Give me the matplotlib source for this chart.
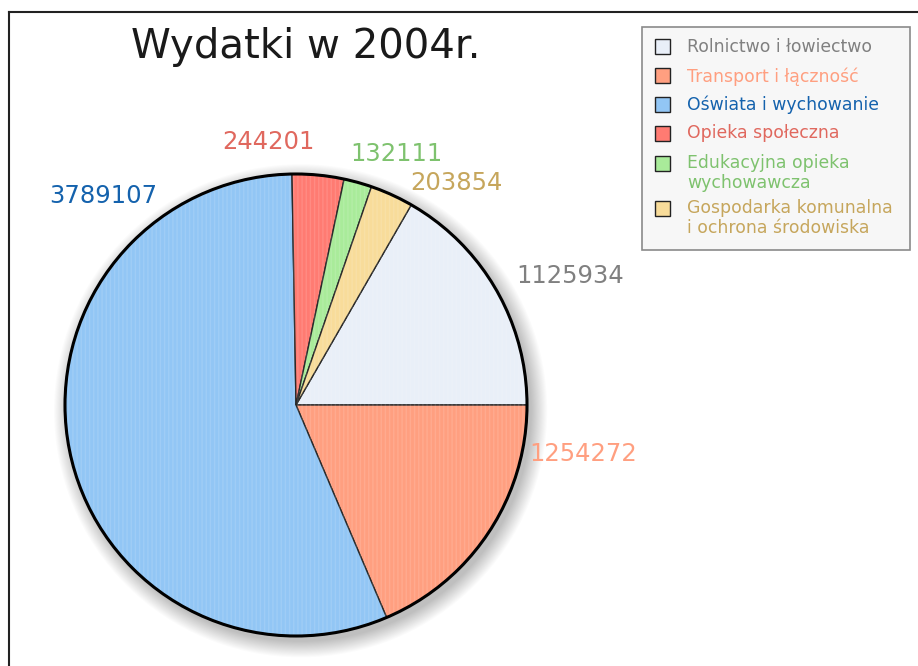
import numpy as np
import matplotlib
matplotlib.use("Agg")
import matplotlib.pyplot as plt
from matplotlib.patches import Circle, Rectangle
from matplotlib.lines import Line2D

plt.rcParams['font.family'] = ['DejaVu Sans']

# data (legend order)
categories = ['Rolnictwo i łowiectwo', 'Transport i łączność', 'Oświata i wychowanie',
              'Opieka społeczna', 'Edukacyjna opieka\nwychowawcza',
              'Gospodarka komunalna\ni ochrona środowiska']
values = [1125934, 1254272, 3789107, 244201, 132111, 203854]

# styles
wedge_colors = ['#e9eff8', '#ff9f80', '#92c6f5', '#ff7b72', '#a9eb9a', '#f8dc9a']
text_colors = ['#808080', '#ff9f80', '#1462ad', '#e0685e', '#7ec26e', '#c6a65c']
# label anchor (left, centre) in pie units
label_pos = [(0.953, 0.558), (1.009, -0.212), (-1.069, 0.905),
             (-0.320, 1.139), (0.234, 1.087), (0.494, 0.961)]

W, H = 918, 666
fig = plt.figure(figsize=(W / 100, H / 100), dpi=100)

# pie axes: centre (296, 405) px, radius 231 px
cx, cy, R = 296, 405, 231
lim = 1.25
half = lim * R
ax = fig.add_axes([(cx - half) / W, (H - cy - half) / H, 2 * half / W, 2 * half / H])
ax.set_xlim(-lim, lim)
ax.set_ylim(-lim, lim)
ax.set_aspect('equal')
ax.axis('off')

# soft shadow
for i in range(16):
    ax.add_patch(Circle((0.02, -0.025), 1.0 + 0.0045 * i, color='black',
                        alpha=0.016, lw=0, zorder=0))

start = 360 * values[0] / sum(values)
wedges, _ = ax.pie(values, colors=wedge_colors, startangle=start, counterclock=False,
                   radius=1, wedgeprops=dict(edgecolor='#2a2a2a', linewidth=1.0))
for w in wedges:
    w.set_zorder(2)

# faint woven texture
tex, _ = ax.pie(values, colors=['none'] * len(values), startangle=start, counterclock=False,
                radius=1, wedgeprops=dict(edgecolor=(1, 1, 1, 0.12), linewidth=0, hatch='||||'))
for w in tex:
    w.set_zorder(3)

ax.add_patch(Circle((0, 0), 1.0, fill=False, edgecolor='black', lw=2.2, zorder=4))

for v, (lx, ly), c in zip(values, label_pos, text_colors):
    ax.text(lx, ly, str(v), color=c, fontsize=17.5, ha='left', va='center')

# frame lines (top and left)
fig.add_artist(Line2D([9 / W, 1], [1 - 12 / H, 1 - 12 / H], color='#222222', lw=1.5))
fig.add_artist(Line2D([9 / W, 9 / W], [0, 1 - 12 / H], color='#222222', lw=1.5))

# title
fig.text(131 / W, 1 - 58 / H, 'Wydatki w 2004r.', fontsize=29, color='#1a1a1a',
         ha='left', va='baseline')

# legend
fig.add_artist(Rectangle((642 / W, 1 - 250 / H), 268 / W, 223 / H, transform=fig.transFigure,
                         facecolor='#f7f7f7', edgecolor='#8a8a8a', lw=1.2))
rows = [46, 75.5, 104.5, 133, 163, 208]
for name, wc, tc, ry in zip(categories, wedge_colors, text_colors, rows):
    fig.add_artist(Rectangle((655 / W, 1 - (ry + 7.5) / H), 15 / W, 15 / H,
                             transform=fig.transFigure, facecolor=wc,
                             edgecolor='#222222', lw=1.0))
    fig.text(687 / W, 1 - (ry - 8.5) / H, name, color=tc, fontsize=12.4,
             ha='left', va='top', linespacing=1.12)

fig.savefig('out.png', dpi=100)
